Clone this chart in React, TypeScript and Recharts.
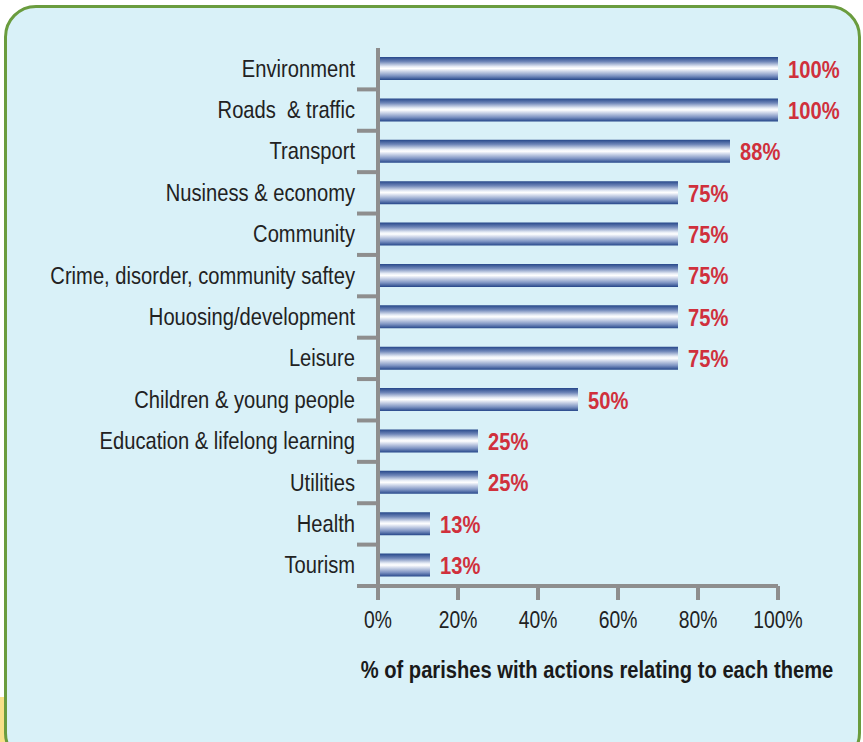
import React from 'react';
import { BarChart, Bar, XAxis, YAxis, LabelList, Label } from 'recharts';

const themes = [
  'Environment',
  'Roads  & traffic',
  'Transport',
  'Nusiness & economy',
  'Community',
  'Crime, disorder, community saftey',
  'Houosing/development',
  'Leisure',
  'Children & young people',
  'Education & lifelong learning',
  'Utilities',
  'Health',
  'Tourism',
];
const shares = [100, 100, 88, 75, 75, 75, 75, 75, 50, 25, 25, 13, 13];
const xTicks = [0, 20, 40, 60, 80, 100];

const data = themes.map((theme, i) => ({ theme, value: shares[i] }));

const W = 863;
const H = 742;
const X_H = 60;
const M = { top: 48, right: 85, bottom: 96, left: 0 };
const Y_W = 378;
const BAND = (H - M.top - M.bottom - X_H) / themes.length;

const FONT = '"Liberation Sans", Arial, sans-serif';
const GREY = '#8e8e8e';
const SQUEEZE = 0.84;

// no narrow font available, so squeeze a regular one
function Narrow({ x, y, anchor = 'start', size = 24, bold = false, fill = '#222', children }: any) {
  return (
    <text
      transform={`translate(${x},${y}) scale(${SQUEEZE},1)`}
      textAnchor={anchor}
      fontSize={size}
      fontWeight={bold ? 'bold' : 'normal'}
      fill={fill}
      fontFamily={FONT}
      style={{ whiteSpace: 'pre' }}
    >
      {children}
    </text>
  );
}

function ThemeTick(props: any) {
  const { x, y, payload } = props;
  const lineY = y + BAND / 2;
  return (
    <g>
      <Narrow x={x - 1} y={y + 8} anchor="end">
        {payload.value}
      </Narrow>
      <line x1={x + 1} x2={Y_W} y1={lineY} y2={lineY} stroke={GREY} strokeWidth={4} />
    </g>
  );
}

function PctTick(props: any) {
  const { x, y, payload } = props;
  return (
    <Narrow x={x} y={y + 26} anchor="middle" size={23}>
      {`${payload.value}%`}
    </Narrow>
  );
}

function ValueLabel(props: any) {
  const { x, y, width, height, value } = props;
  return (
    <Narrow x={x + width + 10} y={y + height / 2 + 9} bold fill="#d0303c">
      {`${value}%`}
    </Narrow>
  );
}

function AxisTitle(props: any) {
  const vb = props.viewBox;
  return (
    <Narrow x={597} y={vb.y + vb.height + 32} anchor="middle" bold fill="#1a1a1a">
      % of parishes with actions relating to each theme
    </Narrow>
  );
}

export default function App() {
  return (
    <div style={{ position: 'absolute', left: 0, top: 0, width: W, height: H, overflow: 'hidden' }}>
      <div style={{ position: 'absolute', left: 0, top: 697, width: 40, height: 45, background: '#f8e08a' }} />
      <div
        style={{
          position: 'absolute',
          left: 4,
          top: 5,
          width: 857,
          height: 760,
          boxSizing: 'border-box',
          border: '3px solid #6a9c3e',
          borderRadius: 32,
          background: '#d9f1f8',
        }}
      />
      <div style={{ position: 'absolute', left: 0, top: 0 }}>
        <BarChart width={W} height={H} data={data} layout="vertical" margin={M} barSize={23}>
          <defs>
            <linearGradient id="barGrad" x1="0" y1="0" x2="0" y2="1">
              <stop offset="0%" stopColor="#26478a" />
              <stop offset="20%" stopColor="#6f86b8" />
              <stop offset="42%" stopColor="#e8edf6" />
              <stop offset="50%" stopColor="#ffffff" />
              <stop offset="60%" stopColor="#d6dded" />
              <stop offset="82%" stopColor="#7d93c2" />
              <stop offset="100%" stopColor="#26478a" />
            </linearGradient>
          </defs>
          <XAxis
            type="number"
            domain={[0, 100]}
            ticks={xTicks}
            axisLine={{ stroke: GREY, strokeWidth: 4 }}
            tickLine={{ stroke: GREY, strokeWidth: 4 }}
            tickSize={14}
            tick={<PctTick />}
            height={X_H}
          >
            <Label content={<AxisTitle />} />
          </XAxis>
          <YAxis
            type="category"
            dataKey="theme"
            width={Y_W}
            tickSize={20}
            tickMargin={2}
            tickLine={false}
            axisLine={{ stroke: GREY, strokeWidth: 4 }}
            tick={<ThemeTick />}
            interval={0}
          />
          <Bar dataKey="value" fill="url(#barGrad)" isAnimationActive={false}>
            <LabelList dataKey="value" content={<ValueLabel />} />
          </Bar>
        </BarChart>
      </div>
    </div>
  );
}
